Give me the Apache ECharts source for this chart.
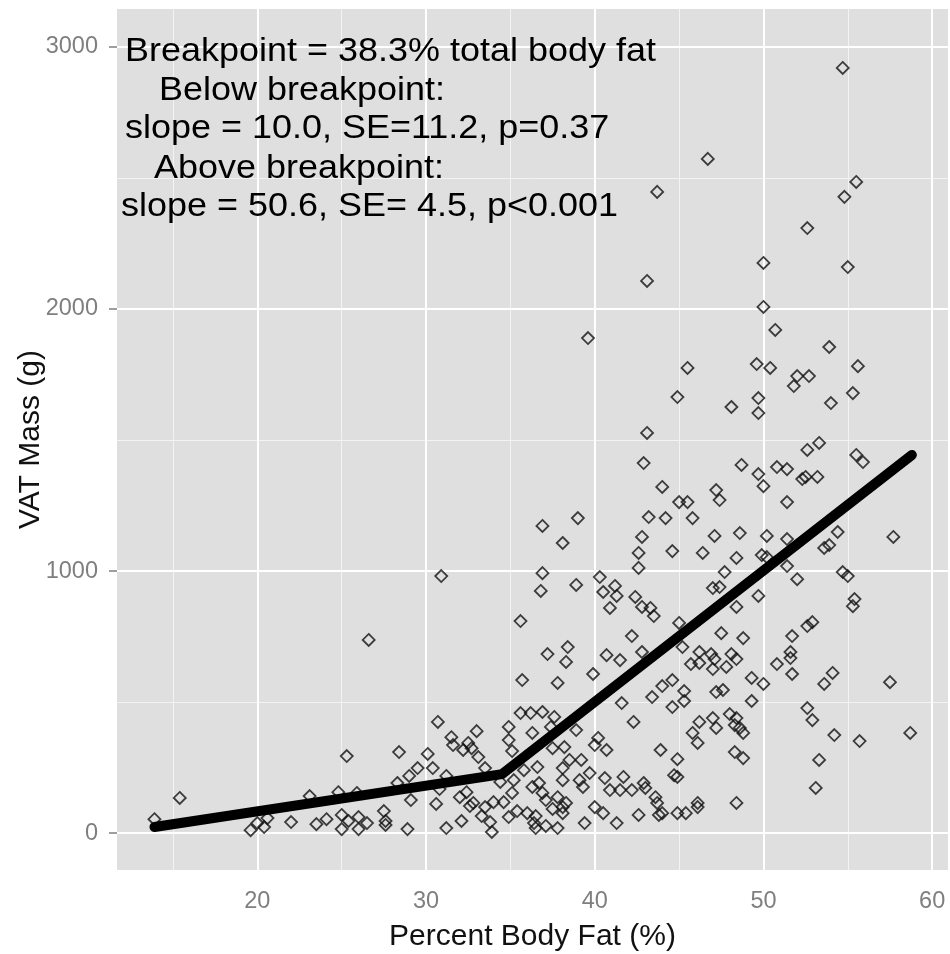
<!DOCTYPE html>
<html>
<head>
<meta charset="utf-8">
<script src="https://cdn.jsdelivr.net/npm/echarts@6/dist/echarts.min.js"></script>
<style>
html,body{margin:0;padding:0;background:#fff;}
#chart{width:950px;height:954px;}
</style>
</head>
<body>
<div id="chart"></div>
<script>
// Percent body fat (%) vs VAT mass (g) — individual observations
const points = [
[13.9,53],[15.4,134],[19.6,11],[20.0,38],[20.4,23],[20.6,57],[22.0,42],[23.1,141],[23.5,34],[24.1,53],
[24.8,156],[25.0,69],[25.0,15],[25.3,294],[25.4,46],[25.9,153],[26.0,61],[26.0,15],[26.5,38],[27.5,84],
[27.6,46],[27.6,31],[28.4,309],[28.3,191],[26.6,737],
[28.9,15],[29.1,126],[29.0,218],[29.5,248],[30.1,302],[30.4,248],[30.7,424],[30.6,111],[30.8,168],[31.2,218],
[31.2,19],[31.5,366],[31.6,336],[32.0,137],[32.1,46],[32.2,317],[32.4,156],[32.5,344],[32.6,103],[32.7,324],
[32.8,115],[33.0,389],[33.1,290],[33.3,65],[33.5,99],[33.5,248],[33.8,42],[33.9,4],[34.0,118],[34.4,195],
[34.6,118],[34.9,405],[34.9,355],[35.1,313],[34.9,61],[35.1,153],[35.2,202],[35.4,84],[35.6,458],[35.7,584],
[35.8,240],[36.0,76],[36.2,458],[36.3,382],[36.3,176],[36.5,65],[36.6,252],[36.7,191],[36.4,38],[36.5,19],
[36.9,462],[36.9,153],[37.1,126],[37.1,27],[37.2,683],[37.4,405],[37.5,324],[37.6,443],[37.5,92],[37.8,573],
[37.8,137],[37.8,19],[38.1,202],[38.1,99],[38.1,248],[38.1,76],[38.2,328],[38.3,653],[38.3,115],[38.5,279],
[38.9,393],[39.1,202],[39.2,279],[39.4,38],[39.3,176],[39.7,229],[39.9,607],[40.0,99],[40.2,363],[40.0,336],
[40.5,76],[40.7,317],[40.6,210],[40.7,679],[40.9,164],[41.3,38],[41.5,164],[41.7,214],[41.6,496],[41.5,660],
[42.2,164],[42.3,424],[42.6,69],[42.9,191],[43.0,172],[43.4,519],[43.6,137],[43.7,115],[43.9,317],[43.8,69],
[44.0,561],[44.0,76],[44.6,584],[44.6,481],[44.7,221],[44.9,282],[44.9,214],[44.9,76],
[45.0,802],[45.2,710],[45.7,645],[46.2,691],[46.2,649],[46.9,683],[47.1,664],[47.0,626],[47.5,763],[47.8,634],
[48.1,683],[48.4,664],[48.8,744],[49.3,592],[50.0,569],[50.8,645],[51.6,691],[51.6,668],[51.7,752],[51.7,607],
[52.6,790],[52.9,805],[53.6,569],[54.1,611],[57.5,576],[45.3,542],[45.3,504],[47.2,538],[47.6,546],[49.3,504],
[46.2,424],[45.8,382],[46.1,344],[47.0,439],[47.2,401],[48.0,454],[48.4,439],[48.3,412],[48.6,401],[48.8,382],
[52.6,477],[52.9,431],[54.2,374],[55.7,351],[58.7,382],[48.3,309],[48.8,286],[53.3,279],[53.1,172],[45.4,76],
[46.1,115],[46.1,99],[48.4,115],[42.8,691],
[30.9,981],[36.9,1172],[38.1,1107],[39.0,1202],[36.9,992],[36.8,924],[38.9,947],[35.6,809],[40.3,977],[40.5,920],
[41.2,943],[41.3,905],[40.9,859],[42.4,901],[42.8,863],[43.3,859],[43.5,828],[42.6,1012],[42.6,1069],[42.8,1130],
[43.2,1206],[44.2,1202],[44.6,1076],[44.0,1321],[42.9,1412],[43.1,1527],[44.9,1664],[42.2,752],[38.4,710],
[50.0,2008],[50.7,1920],[53.9,1855],[45.5,1775],[49.6,1790],[50.4,1775],[52.0,1744],[52.7,1744],[51.8,1706],[55.6,1782],
[55.3,1679],[54.0,1641],[48.1,1626],[49.7,1660],[49.7,1603],[53.3,1489],[52.6,1462],[55.5,1443],[55.9,1416],[48.7,1405],
[49.7,1370],[50.0,1324],[50.8,1397],[51.4,1389],[52.3,1351],[52.5,1359],[53.2,1359],[47.2,1309],[47.4,1271],[45.0,1263],
[45.5,1263],[51.4,1263],[45.8,1202],[47.1,1134],[48.6,1145],[50.2,1134],[51.4,1122],[54.4,1149],[57.7,1130],[46.4,1069],
[48.4,1050],[49.9,1061],[50.2,1053],[53.6,1088],[53.9,1099],[51.4,1019],[52.0,969],[47.7,996],[47.0,935],[47.4,939],
[54.7,996],[55.0,981],[48.4,863],[49.7,905],[55.4,893],[55.3,866],
[54.7,2920],[46.7,2573],[43.7,2447],[55.5,2485],[54.8,2428],[52.6,2309],[50.0,2176],[55.0,2160],[43.1,2107],[39.6,1889]
];

// Segmented (breakpoint) regression fit
const fitLine = [[13.9,23],[34.5,225],[58.8,1443]];

// Axes
const xRange = [11.68, 60.94];
const yRange = [-141, 3145];
const xMajor = [20,30,40,50,60];
const xMinor = [15,25,35,45,55];
const yMajor = [0,1000,2000,3000];
const yMinor = [500,1500,2500];

const annotation = [
  'Breakpoint = 38.3% total body fat',
  ' Below breakpoint:',
  'slope = 10.0, SE=11.2, p=0.37',
  ' Above breakpoint:',
  'slope = 50.6, SE= 4.5, p<0.001'
];
const xTitle = 'Percent Body Fat (%)';
const yTitle = 'VAT Mass (g)';

const FONT = '"Liberation Sans", Arial, sans-serif';
const chart = echarts.init(document.getElementById('chart'), null, {renderer:'canvas'});

const gridLines = []
  .concat(xMinor.map(v => ({xAxis:v, lineStyle:{color:'#f3f3f3', width:1, type:'solid'}})))
  .concat(yMinor.map(v => ({yAxis:v, lineStyle:{color:'#f3f3f3', width:1, type:'solid'}})))
  .concat(xMajor.map(v => ({xAxis:v, lineStyle:{color:'#ffffff', width:2, type:'solid'}})))
  .concat(yMajor.map(v => ({yAxis:v, lineStyle:{color:'#ffffff', width:2, type:'solid'}})));

const annoX = [125, 149, 125, 144, 121];
const annoY = [63, 102, 140, 180, 218];

chart.setOption({
  animation:false,
  backgroundColor:'#ffffff',
  grid:{left:117, top:9, width:831, height:861, show:true, backgroundColor:'#dfdfdf', borderWidth:0,
        containLabel:false, outerBoundsMode:'none'},
  xAxis:{
    type:'value', min:xRange[0], max:xRange[1],
    name:xTitle, nameLocation:'middle', nameGap:52,
    nameTextStyle:{color:'#111', fontSize:30, fontFamily:FONT},
    axisLine:{show:false},
    axisTick:{show:true, length:8, customValues:xMajor, lineStyle:{color:'#7f7f7f', width:1.5}},
    axisLabel:{customValues:xMajor, color:'#7f7f7f', fontSize:23.5, fontFamily:FONT, margin:20,
               formatter:v => String(v)},
    splitLine:{show:false}
  },
  yAxis:{
    type:'value', min:yRange[0], max:yRange[1],
    name:yTitle, nameLocation:'middle', nameGap:71, nameMoveOverlap:false,
    nameTextStyle:{color:'#111', fontSize:30, fontFamily:FONT},
    axisLine:{show:false},
    axisTick:{show:true, length:8, customValues:yMajor, lineStyle:{color:'#7f7f7f', width:1.5}},
    axisLabel:{customValues:yMajor, color:'#7f7f7f', fontSize:23.5, fontFamily:FONT, margin:19,
               formatter:v => String(v)},
    splitLine:{show:false}
  },
  series:[
    {
      type:'scatter', data:points, z:2,
      symbol:'diamond', symbolSize:12,
      itemStyle:{color:'rgba(0,0,0,0)', borderColor:'#111', borderWidth:1.8},
      markLine:{silent:true, symbol:['none','none'], z:1, label:{show:false}, animation:false, data:gridLines},
      silent:true
    },
    {
      type:'line', data:fitLine, z:3, symbol:'none',
      lineStyle:{color:'#000', width:10, join:'round', cap:'round'},
      silent:true
    }
  ],
  graphic: annotation.map((t,i) => ({
    type:'text', x:annoX[i], y:annoY[i] - 11.5, scaleX:1.09, z:10,
    style:{text:t, x:0, y:0, align:'left', verticalAlign:'middle', font:'33px ' + FONT, fill:'#000'}
  }))
});
</script>
</body>
</html>
